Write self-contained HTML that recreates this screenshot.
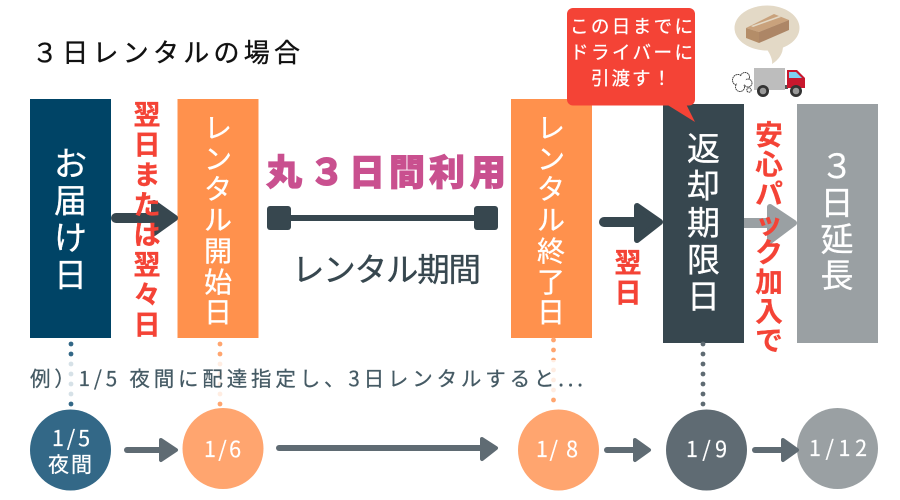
<!DOCTYPE html>
<html lang="ja"><head><meta charset="utf-8"><title>3日レンタルの場合</title>
<style>html,body{margin:0;padding:0;background:#fff}svg{display:block}text{font-family:"Liberation Sans","Noto Sans CJK JP",sans-serif}.j{font-family:"Noto Sans CJK JP",sans-serif}</style></head>
<body>
<svg xmlns="http://www.w3.org/2000/svg" width="900" height="500" viewBox="0 0 900 500">
<rect width="900" height="500" fill="#fff"/>
<text class="j" x="32" y="62" font-size="26" textLength="268" fill="#111" stroke="#111" stroke-width=".35">３日レンタルの場合</text>

<!-- boxes -->
<rect x="30" y="99" width="81" height="239" fill="#004466"/>
<rect x="177.5" y="99" width="81" height="239" fill="#ff914d"/>
<rect x="511" y="99" width="81" height="239" fill="#ff914d"/>
<rect x="663" y="104" width="81" height="239" fill="#37474f"/>
<rect x="797" y="104" width="81" height="239" fill="#9aa0a3"/>

<!-- arrows -->
<g fill="#37474f" stroke="#37474f" stroke-linejoin="round" stroke-linecap="round">
<path d="M116 218H155" stroke-width="10"/>
<path d="M154 203L175 218L154 233Z" stroke-width="6"/>
<path d="M604 222H640" stroke-width="10"/>
<path d="M637 206L660 222L637 240Z" stroke-width="6"/>
</g>
<g fill="#9aa0a3" stroke="#9aa0a3" stroke-linejoin="round">
<path d="M744 223H775" stroke-width="10"/>
<path d="M770 207L794 223L770 241Z" stroke-width="6"/>
</g>

<!-- box labels -->
<g class="j" fill="#fff" text-anchor="middle" stroke="#fff" stroke-width=".3">
<text class="j" font-size="33" x="70.5 70.5 70.5 70.5" y="175.5 212.5 249.5 286.5">お届け日</text>
<text class="j" font-size="28" x="218 218 218 218 218 218 218" y="138 169 199 230 261 292 322">レンタル開始日</text>
<text class="j" font-size="28" x="551 551 551 551 551 551 551" y="138 169 199 230 261 292 322">レンタル終了日</text>
<text class="j" font-size="33" x="703.5 703.5 703.5 703.5 703.5" y="160.5 197.5 234.5 271.5 308">返却期限日</text>
<text class="j" font-size="33" x="837 837 837 837" y="178 214.5 251 287">３日延長</text>
</g>

<!-- red labels -->
<g fill="#f44336" stroke="#f44336" stroke-width=".35" text-anchor="middle">
<text class="j" font-size="27" font-weight="700" x="147 147 147 147 147 147 147 147" y="124.5 154.5 184.5 214.5 244.5 274.5 304.5 334.5">翌日または翌々日</text>
<text class="j" font-size="27" font-weight="700" x="628 628" y="272.5 302.5">翌日</text>
<text class="j" font-size="27.5" font-weight="700" x="769 769 769 769 769 769 769 769" y="144.5 174 203.5 233 262 291.5 321 350">安心パック加入で</text>
</g>

<!-- period -->
<text class="j" font-size="36" font-weight="900" fill="#c9508f" stroke="#c9508f" stroke-width="1" text-anchor="middle" x="284 327 367 407 447 488" y="185 185 185 185 185 185">丸３日間利用</text>
<rect x="267" y="206" width="24" height="24" rx="3" fill="#37474f"/>
<rect x="474" y="206" width="24" height="24" rx="3" fill="#37474f"/>
<rect x="290" y="215" width="185" height="6" fill="#37474f"/>
<text class="j" font-size="32.5" fill="#37474f" stroke="#37474f" stroke-width=".35" x="292" y="281" textLength="189">レンタル期間</text>

<!-- dots -->
<g fill="#336887"><circle cx="71" cy="344" r="2.4"/><circle cx="71" cy="354" r="2.4"/><circle cx="71" cy="364" r="2.4"/><circle cx="71" cy="374" r="2.4"/><circle cx="71" cy="384" r="2.4"/><circle cx="71" cy="394" r="2.4"/><circle cx="71" cy="404" r="2.4"/></g>
<g fill="#ffa56f"><circle cx="220" cy="344" r="2.4"/><circle cx="220" cy="354" r="2.4"/><circle cx="220" cy="364" r="2.4"/><circle cx="220" cy="374" r="2.4"/><circle cx="220" cy="384" r="2.4"/><circle cx="220" cy="394" r="2.4"/><circle cx="220" cy="404" r="2.4"/></g>
<g fill="#ffa56f"><circle cx="553.5" cy="340" r="2.4"/><circle cx="553.5" cy="350" r="2.4"/><circle cx="553.5" cy="360" r="2.4"/><circle cx="553.5" cy="370" r="2.4"/><circle cx="553.5" cy="380" r="2.4"/><circle cx="553.5" cy="390" r="2.4"/><circle cx="553.5" cy="400" r="2.4"/></g>
<g fill="#5f6b73"><circle cx="703" cy="344" r="2.4"/><circle cx="703" cy="354" r="2.4"/><circle cx="703" cy="364" r="2.4"/><circle cx="703" cy="374" r="2.4"/><circle cx="703" cy="384" r="2.4"/><circle cx="703" cy="394" r="2.4"/><circle cx="703" cy="404" r="2.4"/></g>
<rect x="28" y="360" width="560" height="37" fill="#fff" opacity=".8"/>
<text class="j" font-size="20.5" fill="#455a64" stroke="#455a64" stroke-width=".25" x="30" y="386" textLength="553">例）1/5 夜間に配達指定し、3日レンタルすると...</text>

<!-- circles -->
<circle cx="70.5" cy="450" r="40.5" fill="#336887"/>
<circle cx="223" cy="448.5" r="40.5" fill="#ffa56f"/>
<circle cx="558.5" cy="450" r="40.5" fill="#ffa56f"/>
<circle cx="706.5" cy="450" r="40.5" fill="#5f6b73"/>
<circle cx="837.5" cy="448.5" r="40.5" fill="#9aa0a3"/>
<g fill="#fff" font-size="21.5" stroke="#fff" stroke-width=".2">
<text class="j" x="52" y="446" textLength="38">1/5</text>
<text class="j" font-size="21" x="48" y="472" textLength="44">夜間</text>
<text class="j" x="204" y="457" textLength="37">1/6</text>
<text class="j" x="536" y="457" textLength="42">1/ 8</text>
<text class="j" x="686" y="457" textLength="41">1/9</text>
<text class="j" x="809" y="456" textLength="58">1/12</text>
</g>

<!-- small arrows -->
<g fill="#5f6b73" stroke="#5f6b73" stroke-linejoin="round" stroke-linecap="round">
<path d="M127 450H162" stroke-width="6"/><path d="M161 440L176 450L161 460Z" stroke-width="4"/>
<path d="M279 448H482" stroke-width="6"/><path d="M482 439L496 448L482 459Z" stroke-width="4"/>
<path d="M607 450H635" stroke-width="6"/><path d="M635 440L649 450L635 460Z" stroke-width="4"/>
<path d="M755 450H783" stroke-width="6"/><path d="M783 440L797 450L783 460Z" stroke-width="4"/>
</g>

<!-- callout -->
<rect x="567" y="8" width="128" height="97.5" rx="6" fill="#f44336"/>
<path d="M666 104L695 122L686 104Z" fill="#f44336"/>
<g fill="#fff" font-size="18.5" stroke="#fff" stroke-width=".25">
<text class="j" x="570" y="33" textLength="123">この日までに</text>
<text class="j" x="570" y="59" textLength="123">ドライバーに</text>
<text class="j" x="591" y="85" textLength="80">引渡す！</text>
</g>

<!-- truck illustration -->
<ellipse cx="767" cy="28" rx="32.5" ry="22.5" fill="#e3d9c6"/>
<path d="M766 48Q773 58 772 64Q783 57 783 46Z" fill="#e3d9c6"/>
<path d="M746 28L774 14L789 20L759 32Z" fill="#c9a27c"/>
<path d="M746 28L759 32V43L746 38Z" fill="#b48d68"/>
<path d="M759 32L789 20V30L759 43Z" fill="#ad8666"/>
<path d="M751 26L779 16L781 17L753 27Z" fill="#e3d9c6"/>
<g fill="#fff" stroke="#333" stroke-width=".9" stroke-dasharray="1.6 .5">
<circle cx="738" cy="80" r="5.5"/><circle cx="745" cy="77" r="4.5"/><circle cx="748" cy="83" r="4"/><circle cx="740" cy="87" r="4.5"/><circle cx="749" cy="90" r="2.2"/>
</g>
<g fill="#fff"><circle cx="741" cy="81" r="5"/></g>
<rect x="754" y="68" width="31" height="22" fill="#bdbdbd"/>
<rect x="785" y="85" width="3" height="4" fill="#555"/>
<path d="M787 70H797L805 78V88H787Z" fill="#c8172d"/>
<path d="M789 72H796L802 78H789Z" fill="#7fd0f0"/>
<circle cx="763" cy="91" r="6" fill="#333"/><circle cx="763" cy="91" r="3.3" fill="#999"/>
<circle cx="796" cy="91" r="6" fill="#333"/><circle cx="796" cy="91" r="3.3" fill="#999"/>
</svg>
</body></html>
